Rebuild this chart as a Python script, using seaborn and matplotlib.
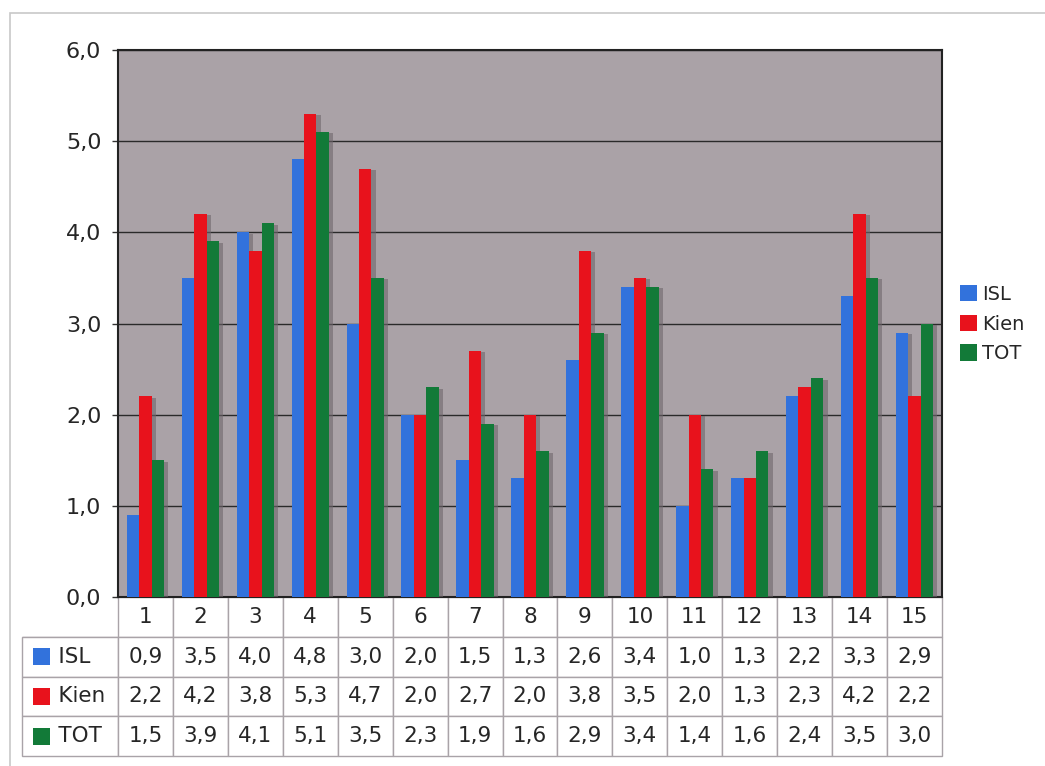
import matplotlib
matplotlib.use("Agg")
import matplotlib.pyplot as plt
import matplotlib.patheffects as pe
from matplotlib.patches import Rectangle
from matplotlib.ticker import FuncFormatter, MultipleLocator
import seaborn as sns
import pandas as pd

categories = [str(i) for i in range(1, 16)]
series = ["ISL", "Kien", "TOT"]
isl = [0.9, 3.5, 4.0, 4.8, 3.0, 2.0, 1.5, 1.3, 2.6, 3.4, 1.0, 1.3, 2.2, 3.3, 2.9]
kien = [2.2, 4.2, 3.8, 5.3, 4.7, 2.0, 2.7, 2.0, 3.8, 3.5, 2.0, 1.3, 2.3, 4.2, 2.2]
tot = [1.5, 3.9, 4.1, 5.1, 3.5, 2.3, 1.9, 1.6, 2.9, 3.4, 1.4, 1.6, 2.4, 3.5, 3.0]
colors = ["#3272dc", "#e8121c", "#127a38"]

values = {"ISL": isl, "Kien": kien, "TOT": tot}
df = pd.DataFrame(
    [(c, s, v) for s in series for c, v in zip(categories, values[s])],
    columns=["cat", "series", "value"],
)

sns.set_theme(style="white")
plt.rcParams["font.family"] = ["DejaVu Sans"]

W, H = 1045, 766
fig = plt.figure(figsize=(W / 100, H / 100), dpi=100)
fig.patch.set_facecolor("white")
L, R, T, B = 118, 942, 50, 597
ax = fig.add_axes([L / W, 1 - B / H, (R - L) / W, (B - T) / H])
ax.set_facecolor("#aaa2a7")

sns.barplot(data=df, x="cat", y="value", hue="series", order=categories,
            hue_order=series, palette=colors, width=0.68, saturation=1,
            edgecolor="none", linewidth=0, ax=ax, legend=False, zorder=3)
for p in ax.patches:
    p.set_path_effects([pe.SimplePatchShadow(offset=(3, -1), shadow_rgbFace="#6e666b", alpha=0.6), pe.Normal()])

ax.set_ylim(0, 6)
ax.set_xlim(-0.5, len(categories) - 0.5)
ax.yaxis.set_major_locator(MultipleLocator(1))
ax.yaxis.set_major_formatter(FuncFormatter(lambda v, p: f"{v:.1f}".replace(".", ",")))
ax.grid(axis="y", color="#2a2a2a", linewidth=1.0, zorder=1)
ax.set_axisbelow(True)
ax.set_xticks([])
ax.set_xlabel("")
ax.set_ylabel("")
ax.tick_params(axis="y", labelsize=16, length=4, width=1, color="#333333", left=True, pad=8)
for s in ax.spines.values():
    s.set_color("#222222")
    s.set_linewidth(1.5)

# data table below the chart
fmt = lambda v: f"{v:.1f}".replace(".", ",")
cell_text = [[""] + categories]
for s in series:
    cell_text.append(["     " + s] + [fmt(v) for v in values[s]])
tl = 22
tb = 756
bbox = [(tl - L) / (R - L), -(tb - B) / (B - T), (R - tl) / (R - L), (tb - B) / (B - T)]
col_w = [96] + [(R - L) / 15] * 15
tbl = ax.table(cellText=cell_text, colWidths=col_w, bbox=bbox, cellLoc="center")
tbl.auto_set_font_size(False)
tbl.set_fontsize(15.5)
for (r, c), cell in tbl.get_celld().items():
    cell.set_edgecolor("#a9a3a8")
    cell.set_linewidth(1.0)
    if c == 0:
        cell.get_text().set_ha("left")
        cell._loc = "left"
        cell.PAD = 0.02
    if r == 0 and c == 0:
        cell.visible_edges = "B"

# colour keys inside the table
row_h = (tb - B) / 4
for i, col in enumerate(colors):
    yc = B + row_h * (i + 1.5)
    x0 = 33
    sz = 17
    ax.add_patch(Rectangle(((x0 - L) / (R - L), (B - (yc + sz / 2)) / (B - T)),
                           sz / (R - L), sz / (B - T), transform=ax.transAxes,
                           facecolor=col, edgecolor="none", clip_on=False, zorder=5))

# legend on the right
handles = [Rectangle((0, 0), 1, 1, facecolor=c, edgecolor="none") for c in colors]
fig.legend(handles, series, loc="center left", bbox_to_anchor=(952 / W, 1 - 324 / H),
           frameon=False, fontsize=14, handlelength=0.9, handleheight=0.9,
           handletextpad=0.25, labelspacing=0.55, borderpad=0.2, borderaxespad=0.2)

# outer frame
fig.add_artist(Rectangle((10 / W, -0.01), (W - 10) / W + 0.02, 1 - 13 / H + 0.01,
                         transform=fig.transFigure, fill=False,
                         edgecolor="#c8c8c8", linewidth=1.2))

fig.savefig("out.png", dpi=100, facecolor="white")
